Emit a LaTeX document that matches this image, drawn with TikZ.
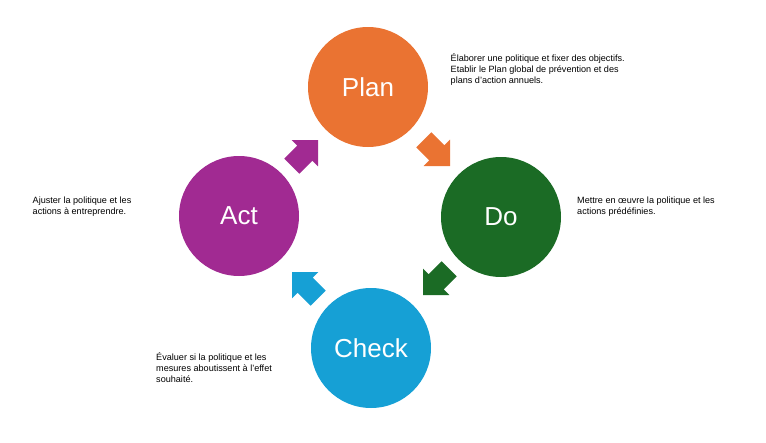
\documentclass[tikz,border=0pt]{standalone}
\usepackage{fontspec}
\setmainfont{Liberation Sans}
\usetikzlibrary{shapes.arrows}
\definecolor{planorange}{RGB}{234,115,50}
\definecolor{dogreen}{RGB}{27,107,37}
\definecolor{checkblue}{RGB}{22,160,213}
\definecolor{actpurple}{RGB}{161,42,146}
\begin{document}
\begin{tikzpicture}[x=1pt,y=-1pt,
  phase/.style={circle, minimum size=120pt, inner sep=0pt, text=white, font=\fontsize{26}{30}\selectfont},
  turn/.style={single arrow, minimum height=37pt, text height=10.5pt, text depth=10.5pt,
    single arrow head extend=8pt, single arrow tip angle=90, inner sep=0pt, outer sep=0pt, anchor=tip},
  note/.style={anchor=north west, align=left, inner sep=0pt, font=\fontsize{9.1}{11.3}\selectfont}]
\useasboundingbox (0,0) rectangle (766,442);

% Cycle circles
\node[phase, fill=planorange] (plan) at (368,87) {Plan};
\node[phase, fill=dogreen] (do) at (501,217) {Do};
\node[phase, fill=checkblue] (check) at (371,348) {Check};
\node[phase, fill=actpurple] (act) at (239,216) {Act};

% Block arrows between the steps
\node[turn, fill=planorange, rotate=-45] (plantodo) at (450,166) {};
\node[turn, fill=dogreen, rotate=-135] (dotocheck) at (423,295) {};
\node[turn, fill=checkblue, rotate=135] (checktoact) at (292,272) {};
\node[turn, fill=actpurple, rotate=45] (acttoplan) at (318,140) {};

% Notes
\node[note] (plannote) at (450.5,53) {Élaborer une politique et fixer des objectifs.\\
Etablir le Plan global de prévention et des\\
plans d'action annuels.};
\node[note] (donote) at (577,196.8) {Mettre en œuvre la politique et les\\
actions prédéfinies.};
\node[note] (actnote) at (32.5,196.3) {Ajuster la politique et les\\
actions à entreprendre.};
\node[note] (checknote) at (156,352) {Évaluer si la politique et les\\
mesures aboutissent à l'effet\\
souhaité.};
\end{tikzpicture}
\end{document}
